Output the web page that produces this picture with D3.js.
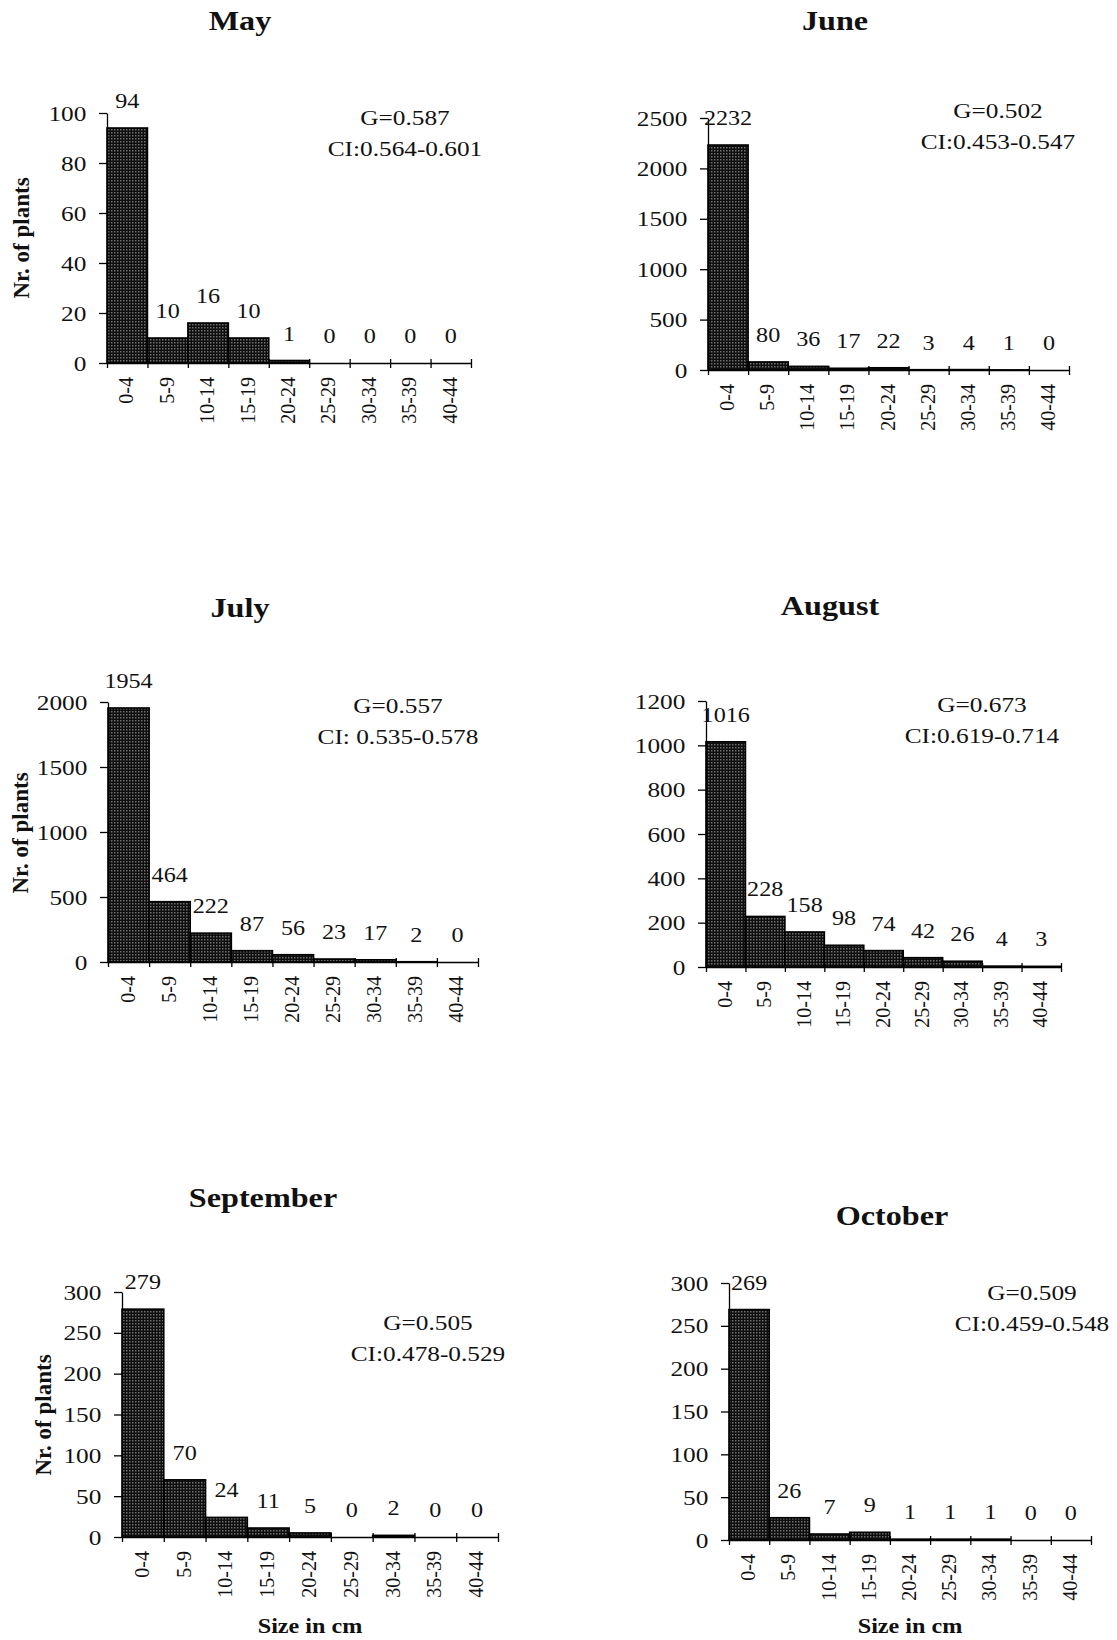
<!DOCTYPE html>
<html lang="en">
  <head>
    <meta charset="utf-8">
    <script src="https://d3js.org/d3.v7.min.js"></script>
    <style>
      body { margin: 0; background: #fff; }
      svg text { font-family: "Liberation Serif", "Times New Roman", serif; fill: #111; }
    </style>
  </head>
  <body>
    <svg width="1117" height="1640"></svg>
    <script>
      // size classes on the x axis
      var sizeClasses = ["0-4", "5-9", "10-14", "15-19", "20-24", "25-29", "30-34", "35-39", "40-44"];

      // number of plants per size class, one array per month
      var months = ["May", "June", "July", "August", "September", "October"];
      var mayCounts = [94, 10, 16, 10, 1, 0, 0, 0, 0];
      var juneCounts = [2232, 80, 36, 17, 22, 3, 4, 1, 0];
      var julyCounts = [1954, 464, 222, 87, 56, 23, 17, 2, 0];
      var augustCounts = [1016, 228, 158, 98, 74, 42, 26, 4, 3];
      var septemberCounts = [279, 70, 24, 11, 5, 0, 2, 0, 0];
      var octoberCounts = [269, 26, 7, 9, 1, 1, 1, 0, 0];

      // y axis tick labels
      var yMaxes = [100, 2500, 2000, 1200, 300, 300];
      var yTickSteps = [20, 500, 500, 200, 50, 50];

      // Gini coefficients and confidence intervals
      var gLabels = ["G=0.587", "G=0.502", "G=0.557", "G=0.673", "G=0.505", "G=0.509"];
      var ciLabels = ["CI:0.564-0.601", "CI:0.453-0.547", "CI: 0.535-0.578", "CI:0.619-0.714", "CI:0.478-0.529", "CI:0.459-0.548"];

      var counts = [mayCounts, juneCounts, julyCounts, augustCounts, septemberCounts, octoberCounts];

      // where each small chart sits on the page
      var layout = [
        { x0: 107, x1: 471, y0: 363, yTop: 113, title: [240, 30], g: [405, 125], yLabel: [21, 238], xLabel: null },
        { x0: 708, x1: 1069, y0: 370, yTop: 118, title: [835, 30], g: [998, 118], yLabel: null, xLabel: null },
        { x0: 108, x1: 478, y0: 962, yTop: 702, title: [240, 617], g: [398, 713], yLabel: [20, 833], xLabel: null },
        { x0: 706, x1: 1061, y0: 967, yTop: 701, title: [830, 615], g: [982, 712], yLabel: null, xLabel: null },
        { x0: 122, x1: 498, y0: 1537, yTop: 1292, title: [263, 1207], g: [428, 1330], yLabel: [43, 1415], xLabel: [310, 1633] },
        { x0: 729, x1: 1091, y0: 1540, yTop: 1283, title: [892, 1225], g: [1032, 1300], yLabel: null, xLabel: [910, 1633] }
      ];

      var stretch = 1.15; // the printed text is a bit wider than Times

      var svg = d3.select("svg");

      // stippled bar fill
      var pat = svg.append("defs").append("pattern")
        .attr("id", "stipple")
        .attr("width", 3).attr("height", 3)
        .attr("patternUnits", "userSpaceOnUse");
      pat.append("rect").attr("width", 3).attr("height", 3).attr("fill", "#0e0e0e");
      pat.append("rect").attr("width", 1.5).attr("height", 1.5).attr("fill", "#707070");

      // horizontal text, slightly widened
      function wideText(parent, x, y, str, size, weight) {
        return parent.append("text")
          .attr("transform", "translate(" + x + "," + y + ") scale(" + stretch + ",1)")
          .attr("text-anchor", "middle")
          .style("font-size", size + "px")
          .style("font-weight", weight || "normal")
          .text(str);
      }

      months.forEach(function (month, i) {
        var L = layout[i];
        var data = counts[i];
        var g = svg.append("g");

        var xScale = d3.scaleBand().domain(sizeClasses).range([L.x0, L.x1]).padding(0);
        var edgeScale = d3.scaleLinear().domain([0, sizeClasses.length]).range([L.x0, L.x1]);
        var yScale = d3.scaleLinear().domain([0, yMaxes[i]]).range([L.y0, L.yTop]);

        // bars
        g.append("g").selectAll("rect")
          .data(data)
          .enter()
          .append("rect")
          .attr("x", function (d, j) { return xScale(sizeClasses[j]); })
          .attr("width", xScale.bandwidth())
          .attr("y", function (d) { return yScale(d); })
          .attr("height", function (d) { return L.y0 - yScale(d); })
          .attr("fill", "url(#stipple)")
          .attr("stroke", function (d) { return d > 0 ? "#000" : "none"; })
          .attr("stroke-width", 1.6);

        // y axis
        var yAxis = g.append("g")
          .attr("transform", "translate(" + L.x0 + ",0)")
          .call(d3.axisLeft(yScale)
            .tickValues(d3.range(0, yMaxes[i] + 1, yTickSteps[i]))
            .tickFormat(d3.format("d"))
            .tickSize(8)
            .tickSizeOuter(0)
            .tickPadding(10));
        yAxis.select(".domain").attr("stroke", "#000").attr("stroke-width", 1.3);
        yAxis.selectAll(".tick line").attr("stroke", "#000").attr("stroke-width", 1.3);
        yAxis.selectAll(".tick text")
          .attr("transform", "scale(" + stretch + ",1)")
          .attr("fill", "#111")
          .style("font-family", "'Liberation Serif', 'Times New Roman', serif")
          .style("font-size", "22px");

        // x axis with ticks on the class edges
        var xAxis = g.append("g")
          .attr("transform", "translate(0," + L.y0 + ")")
          .call(d3.axisBottom(edgeScale)
            .tickValues(d3.range(0, sizeClasses.length + 1))
            .tickSize(5)
            .tickSizeOuter(0)
            .tickFormat(""));
        xAxis.select(".domain").attr("stroke", "#000").attr("stroke-width", 1.3);
        xAxis.selectAll(".tick line").attr("y1", -4).attr("stroke", "#000").attr("stroke-width", 1.3);

        // rotated class labels
        g.append("g").selectAll("text")
          .data(sizeClasses)
          .enter()
          .append("text")
          .attr("transform", function (d) {
            return "translate(" + (xScale(d) + xScale.bandwidth() / 2 + 6) + "," + (L.y0 + 14) + ") rotate(-90)";
          })
          .attr("text-anchor", "end")
          .style("font-size", "20px")
          .text(function (d) { return d; });

        // value labels above the bars
        g.append("g").selectAll("text")
          .data(data)
          .enter()
          .append("text")
          .attr("transform", function (d, j) {
            return "translate(" + (xScale(sizeClasses[j]) + xScale.bandwidth() / 2) + "," + (yScale(d) - 20) + ") scale(" + stretch + ",1)";
          })
          .attr("text-anchor", "middle")
          .style("font-size", "21px")
          .text(function (d) { return d; });

        // title
        wideText(g, L.title[0], L.title[1], month, 28, "bold");

        // G and CI
        wideText(g, L.g[0], L.g[1], gLabels[i], 22);
        wideText(g, L.g[0], L.g[1] + 31, ciLabels[i], 22);

        // axis titles
        if (L.yLabel) {
          g.append("text")
            .attr("transform", "translate(" + L.yLabel[0] + "," + L.yLabel[1] + ") rotate(-90)")
            .attr("text-anchor", "middle")
            .attr("dy", "0.35em")
            .style("font-size", "23px")
            .style("font-weight", "bold")
            .text("Nr. of plants");
        }
        if (L.xLabel) {
          wideText(g, L.xLabel[0], L.xLabel[1], "Size in cm", 21, "bold");
        }
      });
    </script>
  </body>
</html>
